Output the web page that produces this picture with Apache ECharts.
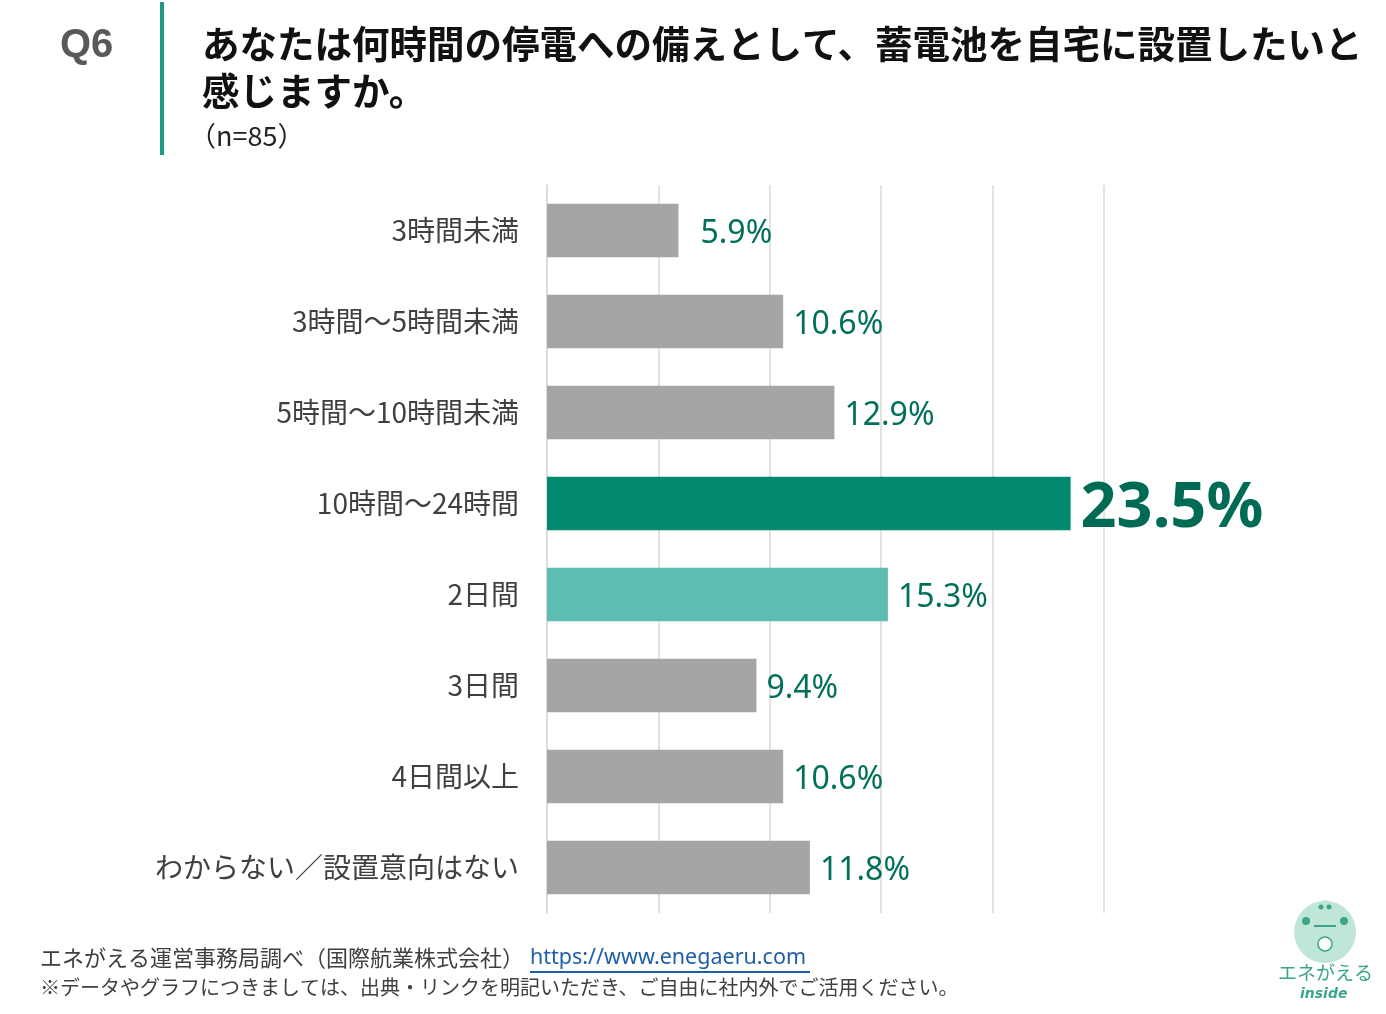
<!DOCTYPE html>
<html>
<head>
<meta charset="utf-8">
<script src="https://cdn.jsdelivr.net/npm/echarts@6/dist/echarts.min.js"></script>
<style>
html,body{margin:0;padding:0;background:#fff;}
#c{width:1386px;height:1014px;}
</style>
</head>
<body>
<div id="c"></div>
<script>
const categories = ['3時間未満', '3時間〜5時間未満', '5時間〜10時間未満', '10時間〜24時間', '2日間', '3日間', '4日間以上', 'わからない／設置意向はない'];
const values = [5.9, 10.6, 12.9, 23.5, 15.3, 9.4, 10.6, 11.8];
const axisTicks = [0, 5, 10, 15, 20, 25];
const titleLines = ['あなたは何時間の停電への備えとして、蓄電池を自宅に設置したいと', '感じますか。'];
const sampleNote = '（n=85）';
const questionNo = 'Q6';
const footerLines = ['エネがえる運営事務局調べ（国際航業株式会社）', '※データやグラフにつきましては、出典・リンクを明記いただき、ご自由に社内外でご活用ください。'];
const footerUrl = 'https://www.enegaeru.com';

const JP = '"Noto Sans CJK JP", "Noto Sans", sans-serif';
const NUM = '"Noto Sans", "Noto Sans CJK JP", sans-serif';
const GRAY = '#A5A5A5', DARK = '#00896F', LIGHT = '#5DBDB2', LABEL = '#00705A';
const topIdx = values.indexOf(Math.max(...values));
const secondIdx = values.indexOf(Math.max(...values.filter((v, i) => i !== topIdx)));

const data = values.map((v, i) => {
  const isTop = i === topIdx;
  return {
    value: v,
    itemStyle: { color: isTop ? DARK : (i === secondIdx ? LIGHT : GRAY) },
    label: isTop ? { fontSize: 63, fontWeight: 'bold', distance: 10, color: '#006B55', offset: [0, 6] }
                 : { distance: i === 0 ? 22 : 10 }
  };
});

const chart = echarts.init(document.getElementById('c'));
chart.setOption({
  animation: false,
  backgroundColor: '#fff',
  grid: { left: 547, right: 282, top: 185, bottom: 101, containLabel: false },
  xAxis: {
    type: 'value', min: axisTicks[0], max: axisTicks[axisTicks.length - 1], interval: axisTicks[1] - axisTicks[0],
    axisLabel: { show: false }, axisLine: { show: false }, axisTick: { show: false },
    splitLine: { show: true, lineStyle: { color: '#D9D9D9', width: 1.5 } }
  },
  yAxis: {
    type: 'category', data: categories, inverse: true,
    axisLine: { show: true, lineStyle: { color: '#D9D9D9', width: 1.5 } },
    axisTick: { show: false },
    axisLabel: { fontFamily: JP, fontSize: 28, color: '#404040', margin: 28, padding: [0, 0, 7, 0] }
  },
  series: [{
    type: 'bar', data: data, barCategoryGap: '41%',
    label: {
      show: true, position: 'right', fontFamily: NUM, fontSize: 32, color: LABEL, offset: [0, 3],
      formatter: p => p.value.toFixed(1) + '%'
    }
  }],
  graphic: [
    { type: 'text', left: 60, top: 26, style: { text: questionNo, font: 'bold 40px "Liberation Sans", Arial, sans-serif', fill: '#595959' } },
    { type: 'rect', shape: { x: 160, y: 2, width: 4, height: 153 }, style: { fill: '#1E9A86' } },
    { type: 'text', left: 202, top: 25, style: { text: titleLines[0], font: 'bold 37.5px "Noto Sans CJK JP", sans-serif', fill: '#111' } },
    { type: 'text', left: 202, top: 72, style: { text: titleLines[1], font: 'bold 37.5px "Noto Sans CJK JP", sans-serif', fill: '#111' } },
    { type: 'text', left: 189, top: 122, style: { text: sampleNote, font: '27px "Noto Sans CJK JP", sans-serif', fill: '#222' } },
    { type: 'text', left: 40, top: 947, style: { text: footerLines[0], font: '22px "Noto Sans CJK JP", sans-serif', fill: '#404040' } },
    { type: 'text', left: 530, top: 947, style: { text: footerUrl, font: '21.5px "Noto Sans", sans-serif', fill: '#1F5FA8' } },
    { type: 'rect', shape: { x: 530, y: 971, width: 280, height: 2 }, style: { fill: '#1F5FA8' } },
    { type: 'text', left: 40, top: 977, style: { text: footerLines[1], font: '20px "Noto Sans CJK JP", sans-serif', fill: '#404040' } },
    { type: 'group', left: 1278, top: 900, children: [
      { type: 'circle', shape: { cx: 47, cy: 33, r: 31 }, style: { fill: '#BFE6D6' } },
      { type: 'circle', shape: { cx: 47, cy: 8, r: 7 }, style: { fill: '#BFE6D6' } },
      { type: 'circle', shape: { cx: 43, cy: 8, r: 2.5 }, style: { fill: '#3AA58C' } },
      { type: 'circle', shape: { cx: 51, cy: 8, r: 2.5 }, style: { fill: '#3AA58C' } },
      { type: 'circle', shape: { cx: 28, cy: 22, r: 4 }, style: { fill: '#3AA58C' } },
      { type: 'circle', shape: { cx: 66, cy: 22, r: 4 }, style: { fill: '#3AA58C' } },
      { type: 'line', shape: { x1: 36, y1: 27, x2: 58, y2: 27 }, style: { stroke: '#3AA58C', lineWidth: 2 } },
      { type: 'circle', shape: { cx: 47, cy: 45, r: 7 }, style: { fill: '#fff', stroke: '#3AA58C', lineWidth: 1.5 } },
      { type: 'text', left: 0, top: 64, style: { text: 'エネがえる', font: '19px "Noto Sans CJK JP", sans-serif', fill: '#3AA58C' } },
      { type: 'text', left: 22, top: 88, style: { text: 'inside', font: 'italic bold 14px "DejaVu Sans", sans-serif', fill: '#3AA58C' } }
    ] }
  ]
});
</script>
</body>
</html>
